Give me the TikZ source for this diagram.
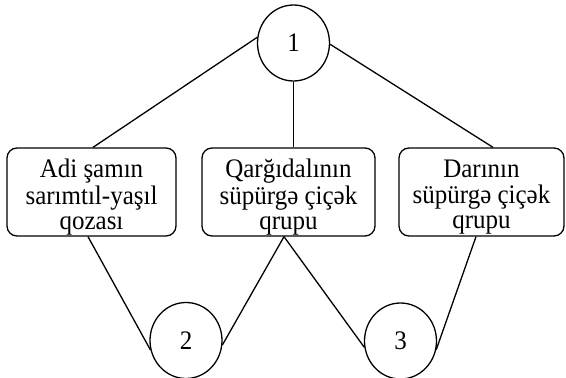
\documentclass[tikz,border=0pt]{standalone}
\usepackage{fontspec}
\setmainfont{Liberation Serif}
\usetikzlibrary{shapes.geometric,calc}
\newcommand{\tallstack}[1]{\scalebox{1}[1.07]{\begin{tabular}{@{}c@{}}#1\end{tabular}}}
\begin{document}
\begin{tikzpicture}[x=1pt,y=-1pt,
  conn/.style={line width=1.3pt,black},
  numnode/.style={draw,line width=1.3pt,ellipse,minimum width=72pt,minimum height=76pt,inner sep=0pt,font=\fontsize{25}{23.4}\selectfont},
  boxnode/.style={draw,line width=1.3pt,rounded corners=10pt,minimum height=88pt,inner sep=0pt},
  boxtext/.style={inner sep=0pt,font=\fontsize{25}{23.4}\selectfont}]
\useasboundingbox (0,0) rectangle (566,378);
\node[numnode] (c1) at (293.5,43) {\scalebox{1}[1.07]{1}};
\node[numnode] (c2) at (186,340.5) {\scalebox{1}[1.07]{2}};
\node[numnode] (c3) at (400.5,341) {\scalebox{1}[1.07]{3}};
\node[boxnode,minimum width=169pt] (b1) at (91.5,192) {};
\node[boxnode,minimum width=173pt] (b2) at (288.5,192) {};
\node[boxnode,minimum width=165pt] (b3) at (481.5,192) {};
\node[boxtext] (t1) at ($(b1.center)+(0,6)$) {\tallstack{Adi şamın\\sarımtıl-yaşıl\\qozası}};
\node[boxtext] (t2) at ($(b2.center)+(0,6)$) {\tallstack{Qarğıdalının\\süpürgə çiçək\\qrupu}};
\node[boxtext] (t3) at ($(b3.center)+(0,6)$) {\tallstack{Darının\\süpürgə çiçək\\qrupu}};
\draw[conn] (c1.171) -- ($(b1.north)+(1.5,0)$);
\draw[conn] (c1.-2) -- ($(b3.north)+(11.5,0)$);
\draw[conn] (c1.south) -- (c1.south |- b2.north);
\draw[conn] ($(b1.south)+(-3.5,0)$) -- (c2.195);
\draw[conn] ($(b2.south)+(-4.5,0)$) -- (c2.-7);
\draw[conn] ($(b2.south)+(-4.5,0)$) -- (c3.190);
\draw[conn] ($(b3.south)+(-5.5,0)$) -- (c3.-14);
\end{tikzpicture}
\end{document}
